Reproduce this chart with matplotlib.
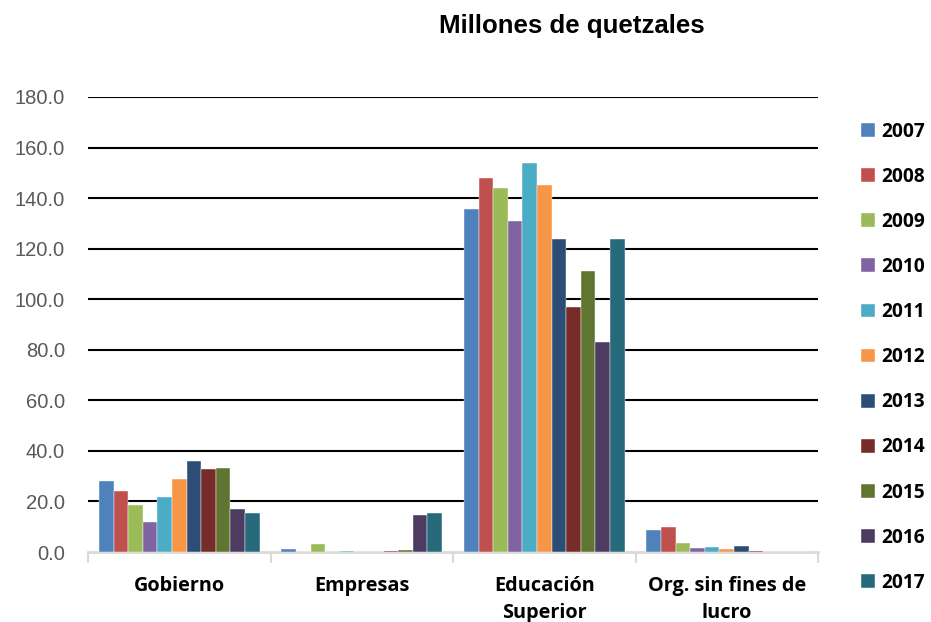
import matplotlib
matplotlib.use("Agg")
import matplotlib.pyplot as plt
import numpy as np

categories = ["Gobierno", "Empresas", "Educación\nSuperior", "Org. sin fines de\nlucro"]
years = ["2007", "2008", "2009", "2010", "2011", "2012", "2013", "2014", "2015", "2016", "2017"]
v2007 = [28.2, 1.2, 135.8, 8.6]
v2008 = [24.3, 0.0, 147.8, 10.0]
v2009 = [18.6, 3.2, 144.0, 3.4]
v2010 = [11.7, 0.0, 130.9, 1.4]
v2011 = [21.8, 0.4, 154.0, 1.8]
v2012 = [28.9, 0.0, 145.3, 1.3]
v2013 = [36.0, 0.0, 123.8, 2.4]
v2014 = [32.8, 0.4, 97.0, 0.4]
v2015 = [33.2, 0.8, 111.2, 0.0]
v2016 = [17.1, 14.6, 83.2, 0.0]
v2017 = [15.5, 15.5, 123.7, 0.0]
series = [v2007, v2008, v2009, v2010, v2011, v2012, v2013, v2014, v2015, v2016, v2017]
colors = ["#4F81BD", "#C0504D", "#9BBB59", "#8064A2", "#4BACC6", "#F79646",
          "#2C4D75", "#772C2A", "#5F7530", "#4D3B62", "#276A7C"]
yticks = [0, 20, 40, 60, 80, 100, 120, 140, 160, 180]

fig = plt.figure(figsize=(9.31, 6.22), dpi=100)
ax = fig.add_axes([88/931, 1-552/622, 730/931, 455/622])

n = len(series)
group_w = 0.88
bw = group_w / n
x = np.arange(len(categories))
for i, (vals, c, lab) in enumerate(zip(series, colors, years)):
    ax.bar(x - group_w/2 + bw*(i+0.5), vals, width=bw, color=c, label=lab,
           edgecolor="white", linewidth=0.3, zorder=3)

ax.set_xlim(-0.5, len(categories) - 0.5)
ax.set_ylim(0, 180)
ax.set_yticks(yticks)
ax.set_yticklabels([f"{t:.1f}" for t in yticks], fontsize=14.5, color="#595959",
                   family="Liberation Sans")
ax.tick_params(axis="y", length=0, pad=16.5)
for t in yticks[1:]:
    ax.axhline(t, color="black", linewidth=1.5, zorder=2)

ax.set_xticks(x)
ax.set_xticklabels(categories, fontsize=14.3, fontweight="bold", family="Open Sans",
                   linespacing=1.5)
ax.tick_params(axis="x", length=0, pad=17.2)
ax.set_xticks(np.arange(-0.5, len(categories)), minor=True)
ax.tick_params(axis="x", which="minor", length=8, color="#D9D9D9", width=1.5)

for s in ["top", "right", "left"]:
    ax.spines[s].set_visible(False)
ax.spines["bottom"].set_color("#D9D9D9")
ax.spines["bottom"].set_linewidth(2)

fig.text(572/931, 1-26/622, "Millones de quetzales", ha="center", va="center",
         fontsize=18.6, fontweight="bold", family="Liberation Sans")

leg = ax.legend(loc="upper left", bbox_to_anchor=(853/931, 1-114/622),
                bbox_transform=fig.transFigure, frameon=False,
                handlelength=0.73, handleheight=0.73, handletextpad=0.35,
                labelspacing=1.31, borderaxespad=0,
                prop={"family": "Open Sans", "weight": "bold", "size": 13.8})

fig.savefig("out.png", dpi=100)
